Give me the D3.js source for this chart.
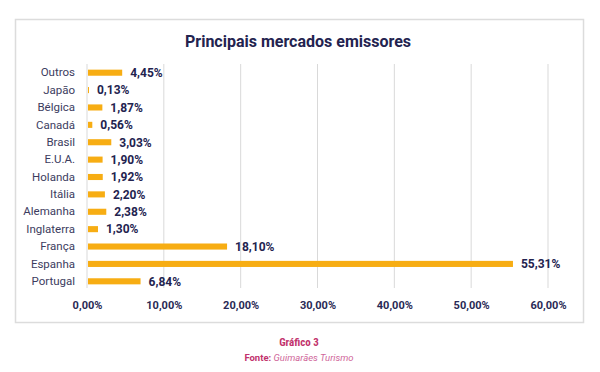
<!DOCTYPE html>
<html>
<head>
<meta charset="utf-8">
<script src="https://cdn.jsdelivr.net/npm/d3@7"></script>
<style>
  body { margin: 0; background: #fff; }
  svg { display: block; }
</style>
</head>
<body>
<div id="chart"></div>
<script>
// data, top to bottom
const categories = ["Outros", "Japão", "Bélgica", "Canadá", "Brasil", "E.U.A.", "Holanda",
    "Itália", "Alemanha", "Inglaterra", "França", "Espanha", "Portugal"];
const values = [4.45, 0.13, 1.87, 0.56, 3.03, 1.90, 1.92, 2.20, 2.38, 1.30, 18.10, 55.31, 6.84];
const ticks = [0, 10, 20, 30, 40, 50, 60];

const fmt = v => v.toFixed(2).replace(".", ",") + "%";

const width = 600, height = 372;
const margin = { top: 64, right: 52, bottom: 84, left: 87 };

const svg = d3.select("#chart").append("svg")
    .attr("width", width)
    .attr("height", height);

// outer frame
svg.append("rect")
    .attr("x", 15.5).attr("y", 19.5)
    .attr("width", 568).attr("height", 303)
    .attr("fill", "#fff")
    .attr("stroke", "#dcdcdc")
    .attr("stroke-width", 1.5);

svg.append("text")
    .attr("x", 298).attr("y", 47)
    .attr("text-anchor", "middle")
    .style("font-family", "Roboto, sans-serif")
    .style("font-weight", "bold")
    .style("font-size", "16px")
    .style("fill", "#23234f")
    .text("Principais mercados emissores");

const x = d3.scaleLinear()
    .domain([0, 60])
    .range([margin.left, width - margin.right]);

const y = d3.scaleBand()
    .domain(categories)
    .range([margin.top, 290])
    .paddingInner(0.65)
    .paddingOuter(0.325);

// grid
svg.append("g")
    .selectAll("line")
    .data(ticks)
    .enter()
    .append("line")
    .attr("x1", d => x(d)).attr("x2", d => x(d))
    .attr("y1", margin.top).attr("y2", height - margin.bottom)
    .attr("stroke", "#d9d9d9")
    .attr("stroke-width", 1);

// x axis
const xAxis = svg.append("g")
    .attr("transform", "translate(0," + (height - margin.bottom) + ")")
    .call(d3.axisBottom(x).tickValues(ticks).tickSize(0).tickPadding(13)
        .tickFormat(d => fmt(d)));
xAxis.select(".domain").remove();
xAxis.selectAll("text")
    .style("font-family", "Roboto, sans-serif")
    .style("font-weight", "bold")
    .style("font-size", "11px")
    .style("fill", "#2a2a55");

// y axis
const yAxis = svg.append("g")
    .attr("transform", "translate(" + (margin.left - 12) + ",0)")
    .call(d3.axisLeft(y).tickSize(0).tickPadding(0));
yAxis.select(".domain").remove();
yAxis.selectAll("text")
    .style("font-family", "Roboto, sans-serif")
    .style("font-size", "11.5px")
    .style("fill", "#3c3c5e");

// bars
svg.append("g")
    .selectAll("rect")
    .data(values)
    .enter()
    .append("rect")
    .attr("x", x(0) + 1)
    .attr("y", (d, i) => y(categories[i]))
    .attr("width", d => Math.max(1, x(d) - x(0)))
    .attr("height", y.bandwidth())
    .attr("fill", "#f7ad13");

// value labels
svg.append("g")
    .selectAll("text")
    .data(values)
    .enter()
    .append("text")
    .attr("x", d => x(d) + 9)
    .attr("y", (d, i) => y(categories[i]) + y.bandwidth() / 2)
    .attr("dy", "0.36em")
    .style("font-family", "Roboto, sans-serif")
    .style("font-weight", "bold")
    .style("font-size", "12px")
    .style("fill", "#23234f")
    .text(d => fmt(d));

// caption
svg.append("text")
    .attr("x", 299).attr("y", 346)
    .attr("text-anchor", "middle")
    .style("font-family", "'Roboto Condensed', 'Liberation Sans Narrow', Roboto, sans-serif")
    .style("font-weight", "bold")
    .style("font-size", "11px")
    .style("fill", "#c2336d")
    .text("Gráfico 3");

const src = svg.append("text")
    .attr("x", 299).attr("y", 361)
    .attr("text-anchor", "middle")
    .style("font-family", "Roboto, sans-serif")
    .style("font-size", "9.5px")
    .style("fill", "#c2336d");
src.append("tspan").style("font-weight", "bold").text("Fonte: ");
src.append("tspan").style("font-style", "italic").style("fill", "#d0669a").text("Guimarães Turismo");
</script>
</body>
</html>
